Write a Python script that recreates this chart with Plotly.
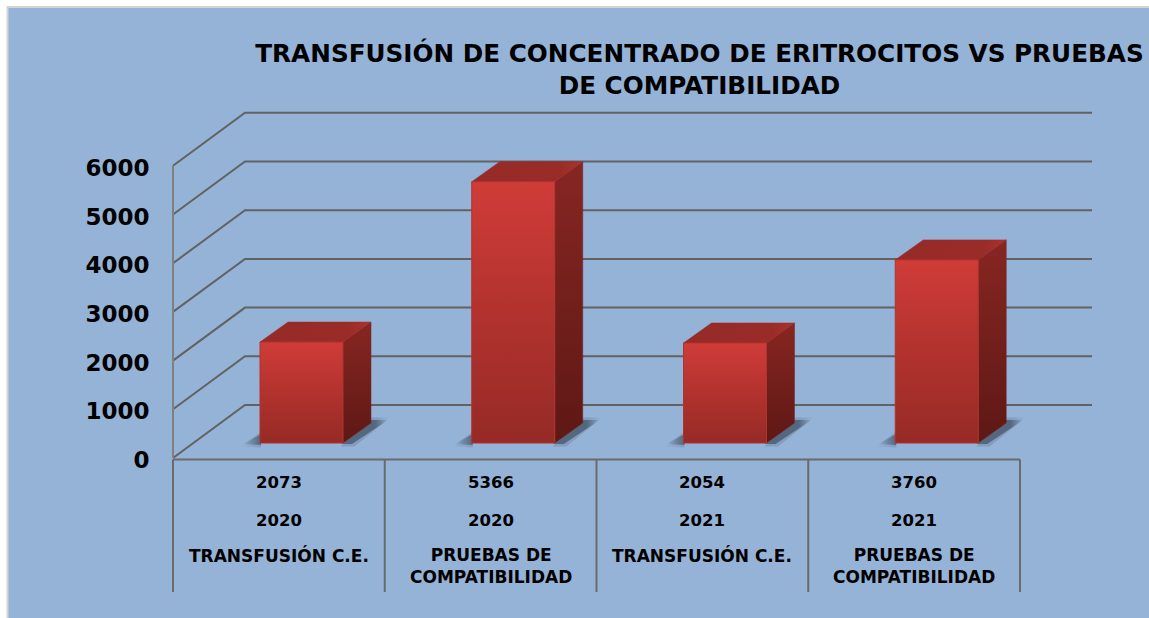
import plotly.graph_objects as go

# ---------- data ----------
values = [2073, 5366, 2054, 3760]
years = ["2020", "2020", "2021", "2021"]
categories = ["TRANSFUSIÓN C.E.", "PRUEBAS DE<br>COMPATIBILIDAD",
              "TRANSFUSIÓN C.E.", "PRUEBAS DE<br>COMPATIBILIDAD"]
y_ticks = [0, 1000, 2000, 3000, 4000, 5000, 6000]
title_text = "TRANSFUSIÓN DE CONCENTRADO DE ERITROCITOS VS PRUEBAS<br>DE COMPATIBILIDAD"

# ---------- layout geometry ----------
W, H = 1149, 618
X0_PX, CAT_PX = 173.0, 211.75      # pixel of category 0, pixels per category
Y0_PX, K_PX = 458.0, 0.0487        # pixel of value 0, pixels per value unit
FONT = "DejaVu Sans"
TXT = "#000000"
GRID = "#626262"


def dx(px):
    return px / CAT_PX


def dy(px):
    return px / K_PX


WALL_DX, WALL_DY = dx(72), dy(53)
BAR_W = dx(83)
BAR_OFF = dx(87)                 # left edge of bar from category left edge
BASE = dy(15)                    # bar foot above the front floor edge
D_X, D_Y = dx(28), dy(20)        # bar depth
N = len(values)

fig = go.Figure()


def poly(xs, ys, **kw):
    fig.add_trace(go.Scatter(x=xs, y=ys, mode="lines", hoverinfo="skip",
                             showlegend=False, **kw))


# walls: gridlines
for v in y_ticks:
    poly([0, WALL_DX, N + WALL_DX], [v, v + WALL_DY, v + WALL_DY],
         line=dict(color=GRID, width=2))

# axis frame
poly([0, 0], [0, y_ticks[-1]], line=dict(color="#808080", width=2))
poly([0, N], [dy(-1.5), dy(-1.5)], line=dict(color="#6a6a6a", width=2))
for i in range(N + 1):
    poly([i, i], [dy(-1.5), dy(-134)], line=dict(color="#6a6a6a", width=2))

SH_CLEAR = "rgba(72,90,112,0)"
# bars
for i, v in enumerate(values):
    l = i + BAR_OFF
    r = l + BAR_W
    t = BASE + v
    # floor shadows: a soft outer halo, then the darker core
    for grow, alpha in ((2.5, 0.25), (0, 0.8)):
        solid = f"rgba(72,90,112,{alpha})"
        poly([l - dx(17 + grow), l + dx(1), l + dx(1), l - dx(17 + grow)],
             [BASE - dy(1 + grow), BASE + dy(9 + grow), BASE - dy(2 + grow), BASE - dy(1 + grow)],
             fill="toself", line=dict(width=0),
             fillgradient=dict(type="horizontal", colorscale=[[0, SH_CLEAR], [1, solid]]))
        poly([r - dx(2), r + D_X - dx(2), r + D_X + dx(17 + grow), r + dx(9 + grow), r - dx(2)],
             [BASE - dy(1 + grow), BASE + D_Y + dy(3 + grow), BASE + D_Y + dy(3 + grow),
              BASE - dy(1 + grow), BASE - dy(1 + grow)],
             fill="toself", line=dict(width=0),
             fillgradient=dict(type="horizontal",
                               colorscale=[[0, solid], [0.72, solid], [1, SH_CLEAR]]))
    # side face
    poly([r, r + D_X, r + D_X, r, r], [BASE, BASE + D_Y, t + D_Y, t, BASE],
         fill="toself", line=dict(color="#7a2320", width=0.5),
         fillgradient=dict(type="vertical",
                           colorscale=[[0, "#5E1815"], [1, "#872622"]]))
    # top face
    poly([l, l + D_X, r + D_X, r, l], [t, t + D_Y, t + D_Y, t, t],
         fill="toself", line=dict(color="#9a2b27", width=0.5),
         fillgradient=dict(type="horizontal",
                           colorscale=[[0, "#952A26"], [0.8, "#9A2C28"], [1, "#AE322D"]]))
    # front face
    poly([l, r, r, l, l], [BASE, BASE, t, t, BASE],
         fill="toself", line=dict(color="#B0332E", width=1),
         fillgradient=dict(type="vertical",
                           colorscale=[[0, "#962A26"], [0.55, "#B5332F"], [1, "#D03C38"]]))

# multi-level category labels
label_rows = [(-24.5, [str(v) for v in values]), (-62, years)]
annotations = []
for offset, row in label_rows:
    for i, text in enumerate(row):
        annotations.append(dict(x=i + 0.5, y=dy(offset), text=text, showarrow=False,
                                xanchor="center", yanchor="middle",
                                font=dict(family=FONT, size=16.5, color=TXT, weight="bold")))
for i, text in enumerate(categories):
    annotations.append(dict(x=i + 0.5, y=dy(-85), text=text, showarrow=False,
                            xanchor="center", yanchor="top", align="center",
                            font=dict(family=FONT, size=17, color=TXT, weight="bold")))

fig.update_layout(
    width=W, height=H, autosize=False,
    margin=dict(l=0, r=0, t=0, b=0, pad=0),
    paper_bgcolor="#FFFFFF", plot_bgcolor="rgba(0,0,0,0)",
    showlegend=False,
    title=dict(text=title_text, x=699.5 / W, xanchor="center", y=1 - 62 / H, yanchor="middle",
               font=dict(family=FONT, size=24.7, color=TXT, weight="bold")),
    xaxis=dict(visible=False, fixedrange=True,
               range=[(0 - X0_PX) / CAT_PX, (W - X0_PX) / CAT_PX]),
    yaxis=dict(range=[(Y0_PX - H) / K_PX, Y0_PX / K_PX], anchor="free", position=X0_PX / W,
               tickmode="array", tickvals=y_ticks, ticktext=[str(t) for t in y_ticks],
               ticks="outside", ticklen=19, tickcolor="rgba(0,0,0,0)",
               ticklabelshift=2,
               showgrid=False, zeroline=False, showline=False, fixedrange=True,
               tickfont=dict(family=FONT, size=23, color=TXT, weight="bold")),
    shapes=[dict(type="rect", xref="paper", yref="paper", layer="below",
                 x0=7.5 / W, x1=1.01, y0=-0.01, y1=1 - 7 / H,
                 fillcolor="#95B3D7", line=dict(color="#D4D4D4", width=2))],
    annotations=annotations,
)

fig.write_html("out.html", config=dict(displayModeBar=False),
               post_script="document.body.style.margin='0';document.body.style.overflow='hidden';")
